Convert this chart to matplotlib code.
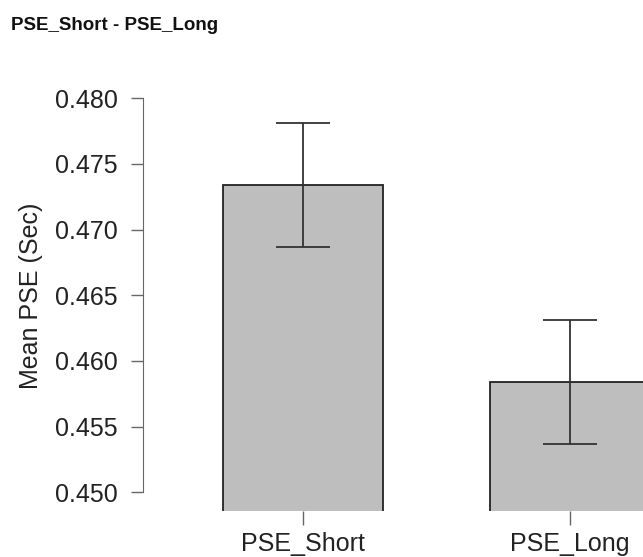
import matplotlib
matplotlib.use("Agg")
import matplotlib.pyplot as plt

# Data
conditions = ["PSE_Short", "PSE_Long"]
mean_pse = [0.4734, 0.4584]
sem_pse = [0.0047, 0.0047]
y_ticks = [0.450, 0.455, 0.460, 0.465, 0.470, 0.475, 0.480]

plt.rcParams["font.family"] = ["Liberation Sans", "DejaVu Sans"]

W, H = 643, 557
fig = plt.figure(figsize=(W / 100, H / 100), dpi=100)

# axes box in pixels: left 143, right 643, top 80, bottom 511
ax = fig.add_axes([143 / W, (H - 511) / H, (643 - 143) / W, (511 - 80) / H])

x = list(range(len(conditions)))
ax.bar(x, mean_pse, width=0.6, color="#bebebe", edgecolor="#222222",
       linewidth=1.3, zorder=2)
ax.errorbar(x, mean_pse, yerr=sem_pse, fmt="none", ecolor="#333333",
            elinewidth=1.3, capsize=19.5, capthick=1.3, zorder=3)

ax.set_xlim(-0.599, 1.273)
ax.set_ylim(0.448576, 0.481396)

ax.set_yticks(y_ticks)
ax.set_yticklabels(["%.3f" % v for v in y_ticks])
ax.set_xticks(x)
ax.set_xticklabels(conditions)

for side in ["top", "right", "bottom"]:
    ax.spines[side].set_visible(False)
ax.spines["left"].set_bounds(0.450, 0.480)
ax.spines["left"].set_color("#666666")

ax.tick_params(axis="y", length=9, width=1, color="#666666", pad=9,
               labelsize=18, labelcolor="#222222")
ax.tick_params(axis="x", length=10, width=1, color="#666666", pad=5,
               labelsize=18, labelcolor="#222222")

ax.set_ylabel("Mean PSE (Sec)", fontsize=18, color="#222222", labelpad=9)

fig.text(11 / W, 1 - 25 / H, "PSE_Short - PSE_Long", fontsize=13.5,
         fontweight="bold", color="#111111", ha="left", va="center")

fig.savefig("out.png", dpi=100)
